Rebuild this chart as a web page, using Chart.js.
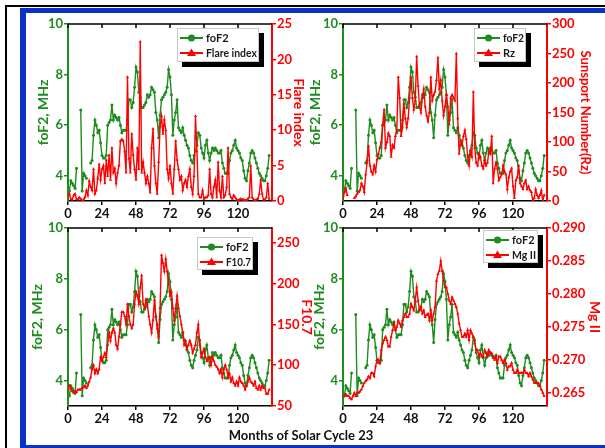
<!DOCTYPE html>
<html>
<head>
<meta charset="utf-8">
<script src="https://cdn.jsdelivr.net/npm/chart.js@4/dist/chart.umd.min.js"></script>
<style>
  html, body { margin: 0; padding: 0; background: #fff; }
  body { width: 605px; height: 448px; position: relative; overflow: hidden; }
  #outer { position: absolute; left: 5px; top: 5px; width: 700px; height: 500px;
           border-top: 2px solid #000; border-left: 2px solid #000; }
  #blue { position: absolute; left: 20px; top: 8px; width: 700px; height: 442px; box-sizing: border-box;
          border: 5px solid #0a32c8; border-left-width: 6px; }
  canvas { position: absolute; }
  #xtitle { position: absolute; left: 0; width: 602px; top: 427px; text-align: center;
            font: bold 13px Lato, sans-serif; color: #111; }
</style>
</head>
<body>
<div id="outer"></div>
<div id="blue"></div>
<canvas id="c1" width="300" height="214" style="left:20px;top:12px"></canvas>
<canvas id="c2" width="310" height="214" style="left:295px;top:12px"></canvas>
<canvas id="c3" width="300" height="214" style="left:20px;top:216px"></canvas>
<canvas id="c4" width="310" height="214" style="left:295px;top:216px"></canvas>
<div id="xtitle">Months of Solar Cycle 23</div>
<script>
// monthly values, solar cycle 23, month 0..142
const foF2 = [3.5, 3.4, 3.8, 3.7, 3.6, 3.5, 4.3, null, null, 6.6,
  3.4, 4.1, 4.0, 3.9, null, null, 4.5, 4.6, 5.6, 6.2,
  6.0, 5.7, 5.8, 5.3, 4.8, 4.7, 4.7, 4.8, 6.0, 6.1,
  6.2, 6.8, 6.2, 6.4, 6.3, 6.2, 6.3, 6.0, 5.7, 5.8,
  5.8, 5.8, 6.2, 7.0, 7.0, 6.7, 6.9, 7.5, 8.3, 8.1,
  7.3, 7.1, 6.7, 6.7, 6.8, 6.9, 7.2, 7.1, 7.2, 7.5,
  7.4, 7.3, 6.5, 6.2, 5.5, 6.4, 7.0, 7.1, 7.2, 7.3,
  7.5, 8.2, 7.9, 7.2, 5.6, 6.2, 6.5, 7.0, 5.9, 5.8,
  5.7, 5.9, 5.6, 5.4, 5.2, 5.1, 4.8, 4.6, 4.5, 4.8,
  5.0, 5.2, 5.7, 5.6, 5.1, 4.9, 4.7, 5.2, 5.4, 4.9,
  4.6, 4.9, 5.1, 5.0, 5.1, 5.0, 4.9, 4.9, 5.0, 4.5,
  4.3, 4.1, 4.1, 4.1, 4.6, 4.9, 5.0, 5.2, 5.4, 5.1,
  5.0, 4.9, 4.7, 4.6, 4.2, 3.9, 3.8, 4.2, 4.5, 4.9,
  5.0, 4.9, 4.7, 4.5, 4.3, 4.1, 4.0, 3.9, 3.8, 3.8,
  4.0, 4.3, 4.8];

const flareIndex = [0.5, 1.0, 0.3, 0.2, 0.8, 1.0, 0.3, 0.2, 0.5, 0.3,
  0, 0.2, 0.5, 1.5, 0.8, 2.8, 2.0, 1.5, 4.5, 1.0,
  1.5, 3.2, 5.2, 3.0, 4.5, 5.0, 2.5, 5.8, 3.5, 6.5,
  3.0, 7.5, 4.0, 4.6, 2.5, 4.0, 5.0, 8.5, 8.7, 8.5,
  7.0, 4.0, 17.5, 6.0, 4.0, 9.5, 6.5, 4.5, 3.0, 7.5,
  4.5, 22.5, 4.0, 5.5, 4.0, 2.5, 3.5, 2.5, 1.2, 7.5,
  10.2, 5.0, 2.5, 1.0, 5.5, 10.5, 12.0, 9.5, 11.5, 10.0,
  4.5, 3.2, 5.0, 2.5, 1.0, 4.5, 8.5, 5.8, 4.5, 3.0,
  3.5, 1.5, 2.5, 3.0, 2.0, 3.5, 4.5, 2.0, 1.0, 3.5,
  12.0, 7.0, 1.0, 0.5, 0.5, 1.5, 0.3, 0.5, 0.5, 0.8,
  4.5, 1.0, 0.5, 2.0, 3.0, 0.5, 5.5, 1.5, 0.5, 3.5,
  0.5, 0.8, 2.0, 7.5, 1.0, 0.5, 0.3, 0.8, 0.5, 0.2,
  0.1, 0.2, 0.3, 0.2, 0.2, 0.1, 0.1, 0.3, 0.5, 5.0,
  0.5, 0.2, 0.1, 0.2, 0.3, 1.0, 3.0, 1.0, 0.2, 0.2,
  0.5, 2.5, 0.3];

const sunspotRz = [2, 15, 22, 10, null, null, null, null, 5, 8,
  12, 15, 18, 30, 25, 15, 45, 65, 93, 60,
  50, 45, 60, 50, 70, 80, 90, 100, 130, 155,
  90, 100, 115, 110, 75, 95, 90, 110, 120, 210,
  175, 110, 125, 165, 140, 125, 140, 175, 210, 175,
  155, 170, 245, 195, 160, 150, 175, 190, 160, 145,
  135, 150, 210, 170, 180, 185, 205, 243, 190, 205,
  170, 145, 160, 180, 160, 130, 175, 180, 175, 170,
  250, 140, 80, 100, 95, 110, 120, 105, 75, 60,
  85, 75, 185, 90, 65, 60, 80, 75, 60, 55,
  70, 60, 65, 85, 80, 110, 30, 55, 65, 55,
  35, 40, 45, 60, 50, 45, 20, 40, 50, 55,
  25, 5, 35, 40, 60, 30, 25, 20, 30, 35,
  20, 25, 18, 15, 0, 5, 20, 10, 5, 10,
  18, 0, 10];

const f107 = [70, 75, 72, 68, 66, 68, 67, 70, 70, 70,
  72, 73, 75, 72, 75, 80, 85, 95, 100, 90,
  95, 90, 95, 110, 105, 110, 115, 110, 125, 140,
  130, 140, 145, 140, 125, 120, 135, 150, 165, 165,
  160, 150, 175, 160, 150, 145, 150, 175, 190, 185,
  175, 195, 210, 175, 170, 180, 175, 160, 150, 140,
  155, 180, 160, 145, 135, 170, 235, 225, 215, 230,
  215, 200, 185, 190, 170, 155, 170, 185, 170, 160,
  150, 140, 125, 130, 120, 125, 130, 125, 115, 120,
  125, 140, 150, 125, 110, 115, 120, 110, 105, 108,
  110, 100, 110, 105, 100, 98, 95, 90, 95, 85,
  95, 100, 95, 85, 90, 80, 85, 78, 75, 80,
  75, 85, 80, 78, 75, 70, 75, 80, 85, 80,
  78, 75, 80, 72, 70, 75, 70, 75, 72, 72,
  65, 65, 70];

const mgII = [0.2645, 0.2645, 0.2648, 0.2645, 0.2645, 0.2642, 0.2640, 0.2645, 0.2650, 0.2645,
  0.2650, 0.2650, 0.2652, 0.2655, 0.2660, 0.2665, 0.2668, 0.2670, 0.2675, 0.2672,
  0.2680, 0.2680, 0.2675, 0.2690, 0.2700, 0.2700, 0.2695, 0.2715, 0.2725, 0.2730,
  0.2735, 0.2730, 0.2720, 0.2720, 0.2735, 0.2745, 0.2755, 0.2745, 0.2750, 0.2760,
  0.2755, 0.2750, 0.2760, 0.2765, 0.2770, 0.2765, 0.2765, 0.2770, 0.2785, 0.2780,
  0.2775, 0.2790, 0.2810, 0.2790, 0.2775, 0.2780, 0.2770, 0.2775, 0.2765, 0.2768,
  0.2770, 0.2760, 0.2775, 0.2760, 0.2770, 0.2780, 0.2820, 0.2830, 0.2835, 0.2850,
  0.2835, 0.2820, 0.2810, 0.2810, 0.2800, 0.2790, 0.2785, 0.2795, 0.2790, 0.2785,
  0.2780, 0.2770, 0.2755, 0.2745, 0.2735, 0.2735, 0.2740, 0.2735, 0.2745, 0.2730,
  0.2745, 0.2740, 0.2735, 0.2725, 0.2715, 0.2715, 0.2705, 0.2710, 0.2705, 0.2705,
  0.2715, 0.2710, 0.2705, 0.2715, 0.2710, 0.2710, 0.2705, 0.2700, 0.2705, 0.2695,
  0.2705, 0.2705, 0.2700, 0.2695, 0.2700, 0.2695, 0.2685, 0.2690, 0.2690, 0.2695,
  0.2685, 0.2680, 0.2680, 0.2685, 0.2680, 0.2680, 0.2680, 0.2680, 0.2685, 0.2680,
  0.2680, 0.2675, 0.2680, 0.2675, 0.2670, 0.2665, 0.2665, 0.2665, 0.2665, 0.2660,
  0.2655, 0.2650, 0.2645];

const months = foF2.map((_, i) => i);
const monthTicks = [0, 24, 48, 72, 96, 120];
const foF2Ticks = [4, 6, 8, 10];
const flareTicks = [0, 5, 10, 15, 20, 25];
const rzTicks = [0, 50, 100, 150, 200, 250, 300];
const f107Ticks = [50, 100, 150, 200, 250];
const mgTicks = [0.265, 0.270, 0.275, 0.280, 0.285, 0.290];

const GREEN = '#1e8c1e';
const RED = '#ff0000';
const FONT = 'Lato';

// top frame line with inward ticks, and the boxed legend with its shadow
const framePlugin = {
  id: 'frame',
  afterDraw(chart, args, opts) {
    const { ctx, chartArea: a, scales } = chart;
    ctx.save();
    ctx.strokeStyle = '#000';
    ctx.lineWidth = 1.5;
    ctx.beginPath();
    ctx.moveTo(a.left, a.top);
    ctx.lineTo(a.right, a.top);
    scales.x.ticks.forEach(t => {
      const px = scales.x.getPixelForValue(t.value);
      ctx.moveTo(px, a.top);
      ctx.lineTo(px, a.top + 4);
    });
    ctx.stroke();

    const bx = a.right - opts.right - opts.w;
    const by = a.top + opts.top;
    ctx.fillStyle = '#000';
    ctx.fillRect(bx + 5, by + 5, opts.w, opts.h);
    ctx.fillStyle = '#fff';
    ctx.fillRect(bx, by, opts.w, opts.h);
    ctx.strokeStyle = '#c8c8c8';
    ctx.lineWidth = 1;
    ctx.strokeRect(bx + 0.5, by + 0.5, opts.w - 1, opts.h - 1);

    const rows = [
      { color: GREEN, label: 'foF2', marker: 'circle' },
      { color: RED, label: opts.label, marker: 'triangle' }
    ];
    rows.forEach((r, i) => {
      const y = by + 10 + i * 15;
      ctx.strokeStyle = r.color;
      ctx.fillStyle = r.color;
      ctx.lineWidth = 2;
      ctx.beginPath();
      ctx.moveTo(bx + 3, y);
      ctx.lineTo(bx + 26, y);
      ctx.stroke();
      ctx.beginPath();
      if (r.marker === 'circle') {
        ctx.arc(bx + 14.5, y, 3.6, 0, Math.PI * 2);
      } else {
        ctx.moveTo(bx + 14.5, y - 4.5);
        ctx.lineTo(bx + 19, y + 3);
        ctx.lineTo(bx + 10, y + 3);
        ctx.closePath();
      }
      ctx.fill();
      ctx.fillStyle = '#1a1a1a';
      ctx.font = 'bold 11px ' + FONT;
      ctx.textBaseline = 'middle';
      ctx.fillText(r.label, bx + 29, y + 0.5, opts.w - 31);
    });
    ctx.restore();
  }
};

function setTicks(values) {
  return scale => { scale.ticks = values.map(v => ({ value: v })); };
}

function makeChart(id, p) {
  new Chart(document.getElementById(id), {
    type: 'line',
    data: {
      labels: months,
      datasets: [
        {
          label: 'foF2', data: foF2, yAxisID: 'y', order: 1,
          borderColor: GREEN, backgroundColor: GREEN, borderWidth: 1.4,
          pointStyle: 'circle', pointRadius: 1.5, pointBorderWidth: 0
        },
        {
          label: p.name, data: p.values, yAxisID: 'y2', order: 0,
          borderColor: RED, backgroundColor: RED, borderWidth: 1.4,
          pointStyle: 'triangle', pointRadius: 1.8, pointBorderWidth: 0
        }
      ]
    },
    options: {
      responsive: false,
      animation: false,
      events: [],
      layout: { padding: { top: 12, left: 0, right: 0, bottom: 0 } },
      plugins: {
        legend: { display: false },
        tooltip: { enabled: false },
        frame: p.legend
      },
      scales: {
        x: {
          type: 'linear', position: 'bottom', min: 0, max: 144,
          afterBuildTicks: setTicks(monthTicks),
          afterFit: s => { s.height = p.bottomH; },
          grid: { drawOnChartArea: false, tickLength: 4, color: '#000', lineWidth: 1.5 },
          border: { color: '#000', width: 1.5 },
          ticks: { color: '#111', padding: 1, maxRotation: 0, autoSkip: false,
                   font: { family: FONT, weight: 'bold', size: 13 } }
        },
        y: {
          position: 'left', min: 3, max: 10,
          afterBuildTicks: setTicks(foF2Ticks),
          afterFit: s => { s.width = 48; },
          grid: { drawOnChartArea: false, tickLength: 4, color: GREEN, lineWidth: 1.5 },
          border: { color: GREEN, width: 2 },
          ticks: { color: GREEN, padding: 1, font: { family: FONT, weight: 'bold', size: 13 } },
          title: { display: true, text: 'foF2, MHz', color: GREEN, padding: { top: p.leftPad, bottom: 0 },
                   font: { family: FONT, weight: 'bold', size: 14 } }
        },
        y2: {
          position: 'right', min: p.min, max: p.max,
          afterBuildTicks: setTicks(p.ticks),
          afterFit: s => { s.width = p.rightW; },
          grid: { drawOnChartArea: false, tickLength: 4, color: RED, lineWidth: 1.5 },
          border: { color: RED, width: 2 },
          ticks: { color: RED, padding: 1, font: { family: FONT, weight: 'bold', size: 13 },
                   callback: p.fmt || (v => String(v)) },
          title: { display: true, text: p.title, color: RED, padding: { top: p.rightPad, bottom: 0 },
                   font: { family: FONT, weight: 'bold', size: p.titleSize || 14 } }
        }
      }
    },
    plugins: [framePlugin]
  });
}

makeChart('c1', {
  name: 'Flare index', values: flareIndex, min: 0, max: 25, ticks: flareTicks,
  title: 'Flare index', rightW: 48, leftPad: 14.6, rightPad: 12.6, bottomH: 25,
  legend: { right: 13, top: 4, w: 82, h: 34, label: 'Flare index' }
});
makeChart('c2', {
  name: 'Rz', values: sunspotRz, min: 0, max: 300, ticks: rzTicks,
  title: 'Sunsport Number(Rz)', titleSize: 13, rightW: 58, leftPad: 11.6, rightPad: 12.2, bottomH: 25,
  legend: { right: 21, top: 4, w: 52, h: 34, label: 'Rz' }
});
makeChart('c3', {
  name: 'F10.7', values: f107, min: 50, max: 268, ticks: f107Ticks,
  title: 'F10.7', rightW: 48, leftPad: 8.6, rightPad: 4.6, bottomH: 24,
  legend: { right: 19, top: 9, w: 56, h: 33, label: 'F10.7' }
});
makeChart('c4', {
  name: 'Mg II', values: mgII, min: 0.263, max: 0.290, ticks: mgTicks, fmt: v => v.toFixed(3),
  title: 'Mg II', rightW: 58, leftPad: 15.6, rightPad: 1.6, bottomH: 24,
  legend: { right: 9, top: 2, w: 55, h: 33, label: 'Mg II' }
});
</script>
</body>
</html>
